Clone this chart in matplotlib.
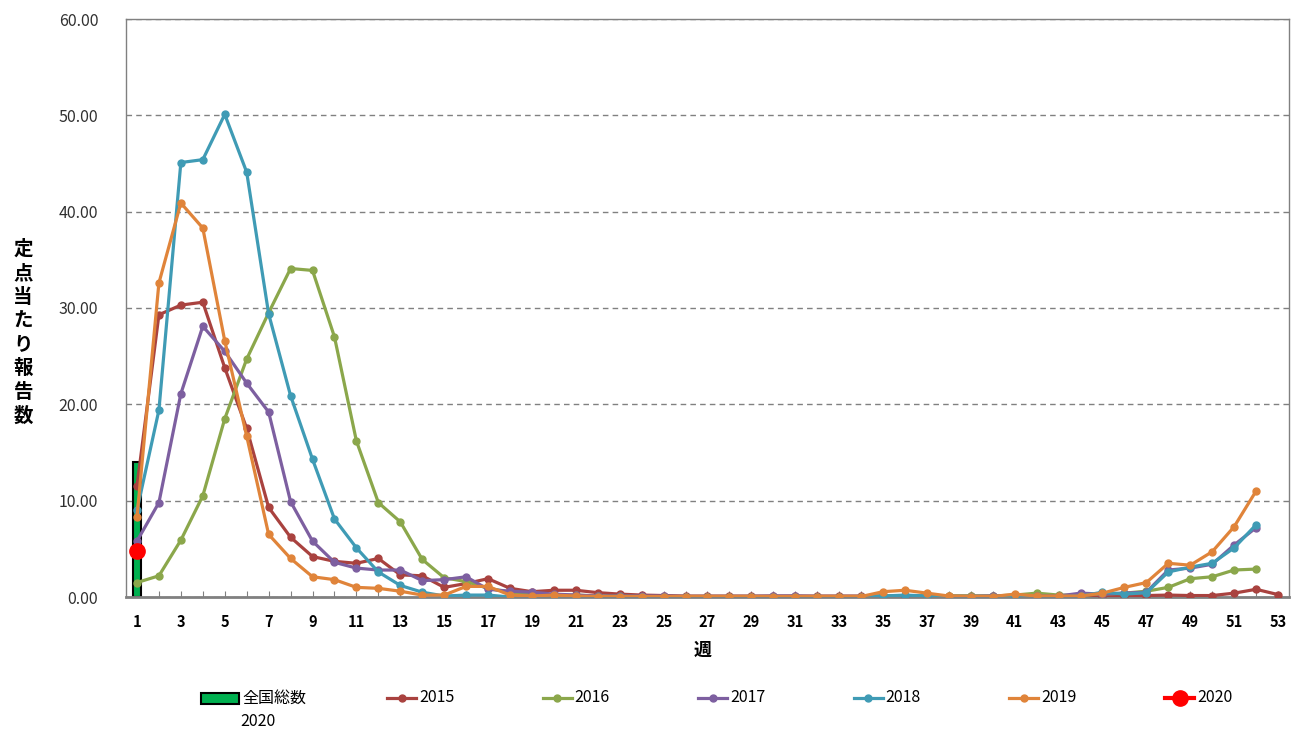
import matplotlib
matplotlib.use("Agg")
import matplotlib.pyplot as plt
from matplotlib.lines import Line2D
from matplotlib.patches import Rectangle
import numpy as np

plt.rcParams['font.family'] = ['Noto Sans CJK JP', 'DejaVu Sans']

# weekly reports per sentinel site
y2015 = [11.5, 29.3, 30.3, 30.6, 23.8, 17.5, 9.3, 6.2, 4.2, 3.7,
         3.5, 4.0, 2.3, 2.2, 1.0, 1.4, 1.9, 0.9, 0.55, 0.7,
         0.7, 0.45, 0.3, 0.2, 0.15, 0.1, 0.1, 0.1, 0.1, 0.1,
         0.1, 0.1, 0.1, 0.1, 0.1, 0.1, 0.1, 0.1, 0.1, 0.1,
         0.1, 0.1, 0.1, 0.1, 0.1, 0.1, 0.15, 0.2, 0.15, 0.15,
         0.4, 0.8, 0.25]
y2016 = [1.5, 2.2, 5.9, 10.5, 18.5, 24.7, 29.5, 34.1, 33.9, 27.0,
         16.2, 9.8, 7.8, 3.9, 2.0, 1.6, 0.9, 0.5, 0.3, 0.2,
         0.2, 0.1, 0.1, 0.05, 0.05, 0.05, 0.05, 0.05, 0.05, 0.05,
         0.05, 0.05, 0.05, 0.05, 0.1, 0.1, 0.1, 0.1, 0.1, 0.1,
         0.2, 0.4, 0.2, 0.2, 0.3, 0.4, 0.6, 1.0, 1.9, 2.1,
         2.8, 2.9]
y2017 = [5.8, 9.8, 21.1, 28.1, 25.5, 22.2, 19.2, 9.9, 5.8, 3.6,
         3.0, 2.8, 2.8, 1.7, 1.8, 2.1, 0.8, 0.6, 0.5, 0.3,
         0.2, 0.1, 0.1, 0.1, 0.1, 0.05, 0.05, 0.05, 0.05, 0.1,
         0.1, 0.05, 0.05, 0.05, 0.05, 0.05, 0.05, 0.05, 0.05, 0.1,
         0.1, 0.1, 0.1, 0.4, 0.3, 0.4, 0.5, 2.8, 3.0, 3.4,
         5.4, 7.2]
y2018 = [9.0, 19.4, 45.1, 45.4, 50.1, 44.1, 29.4, 20.9, 14.3, 8.1,
         5.1, 2.6, 1.2, 0.5, 0.1, 0.2, 0.2, 0.0, 0.0, 0.0,
         0.0, 0.0, 0.0, 0.0, 0.0, 0.0, 0.0, 0.0, 0.0, 0.0,
         0.0, 0.0, 0.0, 0.0, 0.1, 0.2, 0.1, 0.05, 0.05, 0.0,
         0.0, 0.05, 0.05, 0.1, 0.5, 0.3, 0.45, 2.6, 3.1, 3.5,
         5.1, 7.5]
y2019 = [8.3, 32.6, 40.9, 38.3, 26.6, 16.7, 6.5, 4.0, 2.1, 1.8,
         1.0, 0.9, 0.6, 0.2, 0.2, 1.1, 1.1, 0.2, 0.1, 0.2,
         0.1, 0.05, 0.05, 0.05, 0.05, 0.05, 0.05, 0.05, 0.05, 0.05,
         0.05, 0.05, 0.05, 0.05, 0.55, 0.7, 0.4, 0.1, 0.05, 0.05,
         0.3, 0.1, 0.1, 0.1, 0.4, 1.0, 1.5, 3.5, 3.3, 4.7,
         7.3, 11.0]
y2020 = [4.8]
national_2020 = [14.0]

years = ['2015', '2016', '2017', '2018', '2019']
series = [y2015, y2016, y2017, y2018, y2019]
colors = ['#A9423F', '#8BA74B', '#7D5FA0', '#3F9BB5', '#E0843A']
weeks = np.arange(1, 54)
tick_labels = [str(w) if w % 2 == 1 else '' for w in weeks]

fig = plt.figure(figsize=(13, 7.3), dpi=100)
ax = fig.add_axes([126 / 1300, 1 - 597 / 730, (1289 - 126) / 1300, (597 - 19) / 730])

ax.bar(weeks[:len(national_2020)], national_2020, width=0.4,
       color='#00B050', edgecolor='black', linewidth=1.5, zorder=2)

for yr, vals, c in zip(years, series, colors):
    ax.plot(weeks[:len(vals)], vals, color=c, lw=2.3, marker='o', ms=5,
            zorder=3)
ax.plot(weeks[:len(y2020)], y2020, color='#FF0000', lw=3, marker='o', ms=11,
        zorder=4)

ax.set_xlim(0.5, 53.5)
ax.set_ylim(0, 60)
ax.set_xticks(weeks)
ax.set_xticklabels(tick_labels, fontsize=10.5, fontweight='bold')
ax.set_yticks(np.arange(0, 61, 10))
ax.set_yticklabels(['%.2f' % v for v in np.arange(0, 61, 10)], fontsize=11.5,
                   color='#303030')
ax.tick_params(axis='x', direction='in', length=4, color='#808080', pad=12)
ax.tick_params(axis='y', length=0, pad=20)
ax.yaxis.grid(True, color='#808080', linestyle=(0, (4, 3)), linewidth=1)
ax.set_axisbelow(True)
for side in ['top', 'right', 'left']:
    ax.spines[side].set_color('#808080')
    ax.spines[side].set_linewidth(1)
ax.spines['bottom'].set_color('#808080')
ax.spines['bottom'].set_linewidth(2)

fig.text(703 / 1300, 1 - 650 / 730, '週', ha='center', va='center',
         fontsize=13, fontweight='bold')
fig.text(23 / 1300, 1 - 333 / 730, '\n'.join('定点当たり報告数'), ha='center',
         va='center', fontsize=14, fontweight='bold', linespacing=1.32)

# legend along the bottom
ly = 1 - 698 / 730
fig.add_artist(Rectangle((201 / 1300, 1 - 704 / 730), 38 / 1300, 11 / 730,
                         transform=fig.transFigure, facecolor='#00B050',
                         edgecolor='black', linewidth=1.5))
fig.text(242 / 1300, ly, '全国総数', ha='left', va='center', fontsize=11.5)
fig.text(240 / 1300, 1 - 722 / 730, '2020', ha='left', va='center', fontsize=11.5)
leg_labels = years + ['2020']
leg_colors = colors + ['#FF0000']
for i, (lab, c) in enumerate(zip(leg_labels, leg_colors)):
    x0 = (387 + i * 155.6) / 1300
    x1 = x0 + 29 / 1300
    big = i == 5
    fig.add_artist(Line2D([x0, x1], [ly, ly], transform=fig.transFigure,
                          color=c, lw=3 if big else 2.3))
    fig.add_artist(Line2D([(x0 + x1) / 2], [ly], transform=fig.transFigure,
                          color=c, marker='o', ms=11 if big else 5))
    fig.text(x1 + 3 / 1300, ly, lab, ha='left', va='center', fontsize=11.5)

fig.savefig('out.png', dpi=100)
